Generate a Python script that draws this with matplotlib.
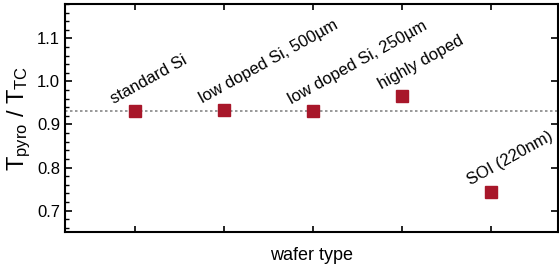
import matplotlib
matplotlib.use("Agg")
import matplotlib.pyplot as plt
from matplotlib.ticker import MultipleLocator

plt.rcParams['font.family'] = ['Liberation Sans', 'DejaVu Sans']
plt.rcParams['mathtext.fontset'] = 'custom'
plt.rcParams['mathtext.rm'] = 'Liberation Sans'
plt.rcParams['mathtext.it'] = 'Liberation Sans'

wafers = ["standard Si", "low doped Si, 500µm", "low doped Si, 250µm",
          "highly doped", "SOI (220nm)"]
ratio = [0.931, 0.934, 0.931, 0.966, 0.742]
mean_ratio = 0.931

pos = list(range(1, len(wafers) + 1))
red = "#a8172a"

fig = plt.figure(figsize=(5.59, 2.64), dpi=100)
ax = fig.add_axes([0.1163, 0.121, 0.882, 0.864])

ax.axhline(mean_ratio, color="#888888", linestyle=(0, (1.5, 1.5)), linewidth=1.2, zorder=1)
ax.plot(pos, ratio, "s", color=red, markersize=8.5, linestyle="none", zorder=3)

for x, y, name in zip(pos, ratio, wafers):
    ax.annotate(name, (x, y), xytext=(-15, 5), textcoords="offset points",
                rotation=29, rotation_mode="anchor", ha="left", va="baseline",
                fontsize=12)

ax.set_xlim(0.22, 5.75)
ax.set_ylim(0.65, 1.18)
ax.set_xticks(pos)
ax.set_xticklabels([])
ax.yaxis.set_major_locator(MultipleLocator(0.1))
ax.yaxis.set_minor_locator(MultipleLocator(0.02))
ax.yaxis.set_major_formatter(matplotlib.ticker.FormatStrFormatter('%.1f'))

for s in ax.spines.values():
    s.set_linewidth(1.5)

ax.tick_params(axis="x", direction="in", top=True, length=4, width=1.2)
ax.tick_params(axis="y", which="major", direction="in", length=5, width=1.2,
               labelsize=12, right=True)
ax.tick_params(axis="y", which="minor", direction="in", length=3, width=1.0)

ax.set_xlabel("wafer type", fontsize=13, labelpad=7)
ax.set_ylabel(r"$\mathregular{T_{pyro}\ /\ T_{TC}}$", fontsize=17, labelpad=3)

fig.savefig("out.png", dpi=100)
